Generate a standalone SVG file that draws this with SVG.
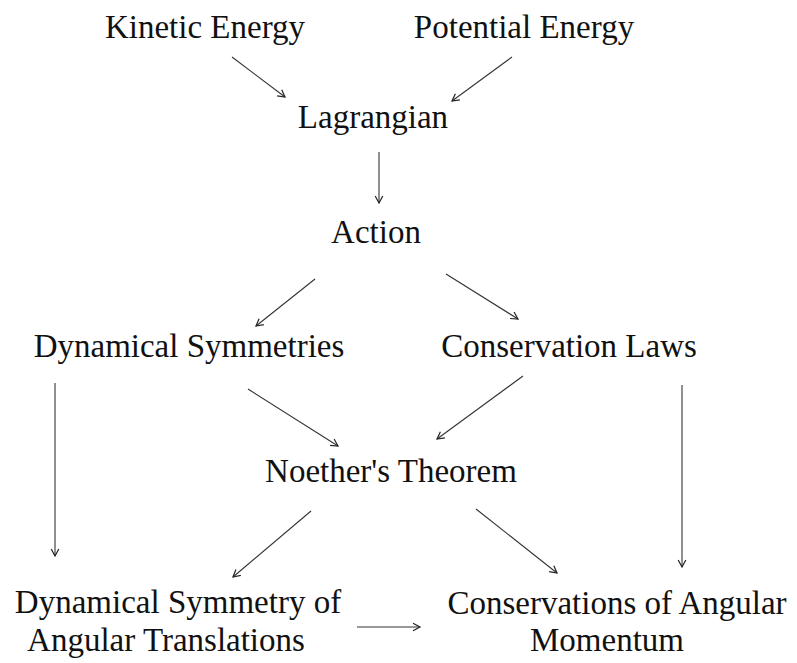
<svg xmlns="http://www.w3.org/2000/svg" width="797" height="663" viewBox="0 0 797 663">
<style>
text{font-family:"Liberation Serif","Times New Roman",serif;font-size:33px;fill:#111;}
.c{text-anchor:middle;}
.e line{stroke:#333;stroke-width:1.1;fill:none;marker-end:url(#ah);}
</style>
<defs>
<marker id="ah" markerUnits="userSpaceOnUse" markerWidth="12" markerHeight="12" viewBox="-8 -6 10 12" refX="0" refY="0" orient="auto">
<path d="M-7,-3.8 L0,0 L-7,3.8" fill="none" stroke="#222" stroke-width="1.2"/>
</marker>
</defs>
<rect width="797" height="663" fill="#fff"/>
<g id="kinetic"><text class="c" x="205" y="38">Kinetic Energy</text></g>
<g id="potential"><text class="c" x="524" y="38">Potential Energy</text></g>
<g id="lagrangian"><text class="c" x="373" y="128">Lagrangian</text></g>
<g id="action"><text class="c" x="376" y="243">Action</text></g>
<g id="dynsym"><text class="c" x="189" y="357">Dynamical Symmetries</text></g>
<g id="conslaws"><text class="c" x="569" y="357">Conservation Laws</text></g>
<g id="noether"><text class="c" x="391" y="482">Noether's Theorem</text></g>
<g id="dynsymang"><text class="c" x="178" y="613">Dynamical Symmetry of</text><text class="c" x="166" y="651">Angular Translations</text></g>
<g id="consang"><text class="c" x="617" y="614">Conservations of Angular</text><text class="c" x="607" y="651">Momentum</text></g>
<g id="edges" class="e">
<line x1="232" y1="57" x2="285" y2="97"/>
<line x1="512" y1="57" x2="452" y2="101"/>
<line x1="379" y1="152" x2="379" y2="203"/>
<line x1="315" y1="279" x2="256" y2="326"/>
<line x1="446" y1="274" x2="518" y2="319"/>
<line x1="248" y1="389" x2="338" y2="446"/>
<line x1="523" y1="376" x2="437" y2="439"/>
<line x1="55" y1="383" x2="55" y2="556"/>
<line x1="682" y1="385" x2="682" y2="567"/>
<line x1="311" y1="511" x2="233" y2="577"/>
<line x1="476" y1="509" x2="557" y2="573"/>
<line x1="357" y1="627" x2="420" y2="627"/>
</g>
</svg>
